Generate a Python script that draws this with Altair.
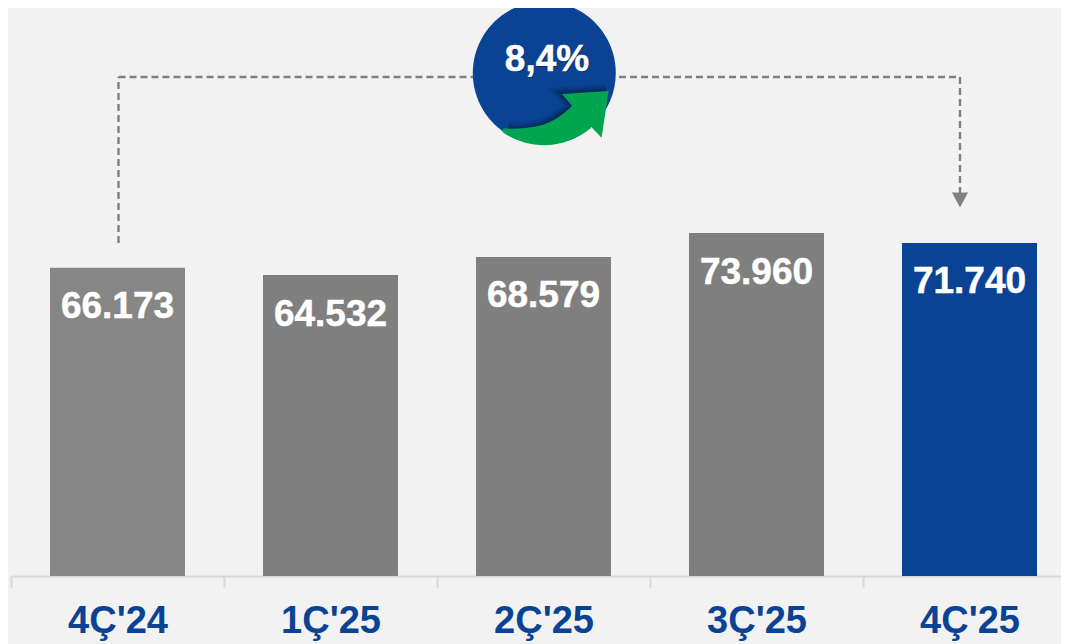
import altair as alt
import pandas as pd

categories = ["4Ç'24", "1Ç'25", "2Ç'25", "3Ç'25", "4Ç'25"]
values = [66173, 64532, 68579, 73960, 71740]
labels = ["66.173", "64.532", "68.579", "73.960", "71.740"]
bar_colors = ["#868686", "#7F7F7F", "#7F7F7F", "#7F7F7F", "#0B4394"]
growth_label = ["8,4%"]

BLUE = "#0B4394"
GREY = "#808080"
Y_BASE = -3030
Y_TOP = 124467

df = pd.DataFrame({"cat": categories, "v": values, "label": labels, "base": [Y_BASE] * 5})

x_scale = alt.Scale(domain=categories, range=[3, 1068], padding=0)
y_scale = alt.Scale(domain=[Y_BASE, Y_TOP], nice=False, zero=False)

bars = alt.Chart(df).mark_bar(size=135).encode(
    x=alt.X("cat:N", scale=x_scale, sort=categories, title=None,
            axis=alt.Axis(labelAngle=0, labelFont="Liberation Sans", labelFontWeight="bold",
                          labelFontSize=38, labelColor=BLUE, labelPadding=15,
                          domainColor="#D9D9D9", domainWidth=2, tickColor="#D9D9D9", tickWidth=2,
                          tickSize=11, tickBand="extent", labelBaseline="top", grid=False)),
    y=alt.Y("v:Q", scale=y_scale, axis=None),
    y2="base:Q",
    color=alt.Color("cat:N", scale=alt.Scale(domain=categories, range=bar_colors), legend=None),
)

text = alt.Chart(df).mark_text(font="Liberation Sans", fontWeight="bold", fontSize=37,
                               color="white", stroke="white", strokeWidth=0.5,
                               baseline="middle", dy=39.5).encode(
    x=alt.X("cat:N", scale=x_scale, sort=categories),
    y=alt.Y("v:Q", scale=y_scale),
    text="label:N",
)


def rule(x1, x2, y1, y2):
    return alt.Chart(df.head(1)).mark_rule(color=GREY, strokeWidth=2.4, strokeDash=[7, 4]).encode(
        x=alt.value(x1), x2=alt.value(x2), y=alt.value(y1), y2=alt.value(y2))


connectors = [
    rule(110.5, 110.5, 235, 69),
    rule(110.5, 470, 69, 69),
    rule(600, 952, 69, 69),
    rule(952, 952, 69, 186),
]


def symbol(path, x, y, **kw):
    return alt.Chart(df.head(1)).mark_point(shape=path, size=4, filled=True, opacity=1, strokeWidth=0, **kw).encode(
        x=alt.value(x), y=alt.value(y))


arrow_head = symbol("M-8,-7.5L8,-7.5L0,7.5Z", 952, 192, fill=GREY)

CIRCLE_X, CIRCLE_Y = 536.3, 65
circle = symbol("M-71.5,0A71.5,71.5 0 1,1 71.5,0A71.5,71.5 0 1,1 -71.5,0Z", CIRCLE_X, CIRCLE_Y, fill=BLUE)

shadow_path = "M-36,56Q-2,60 28,33L18,21L62,18"
shadows = [
    alt.Chart(df.head(1)).mark_point(shape=shadow_path, size=4, filled=False, opacity=o, strokeWidth=w,
                                     color="#04152F").encode(x=alt.value(CIRCLE_X), y=alt.value(CIRCLE_Y))
    for w, o in [(14, 0.12), (9, 0.18), (5, 0.28)]
]

green = symbol("M17.7,21L64.3,18L57.3,64.7L46,53L46.5,55A72.5,72.5 0 0,1 -42,59L-41,55.3"
               "Q-24,57 -2,52Q14,47 27.7,33Z", CIRCLE_X, CIRCLE_Y, fill="#00A54F")

growth_df = pd.DataFrame({"label": growth_label})
growth_shadow = alt.Chart(growth_df).mark_text(font="Liberation Sans", fontWeight="bold", fontSize=37,
                                               color="#04152F", opacity=0.6, baseline="middle").encode(
    x=alt.value(540), y=alt.value(53), text="label:N")
growth = alt.Chart(growth_df).mark_text(font="Liberation Sans", fontWeight="bold", fontSize=37,
                                        color="white", stroke="white", strokeWidth=0.5,
                                        baseline="middle").encode(
    x=alt.value(539), y=alt.value(52), text="label:N")

chart = alt.layer(
    bars, text, *connectors, arrow_head, circle, *shadows, green, growth_shadow, growth
).resolve_scale(color="independent").properties(
    width=1053, height=568,
    autosize=alt.AutoSizeParams(type="none"),
    padding={"left": 0, "top": 0, "right": 0, "bottom": 68},
    background="#F2F2F2",
).configure_view(stroke=None)

chart.save("out.html", embed_options={"renderer": "svg", "actions": False})
